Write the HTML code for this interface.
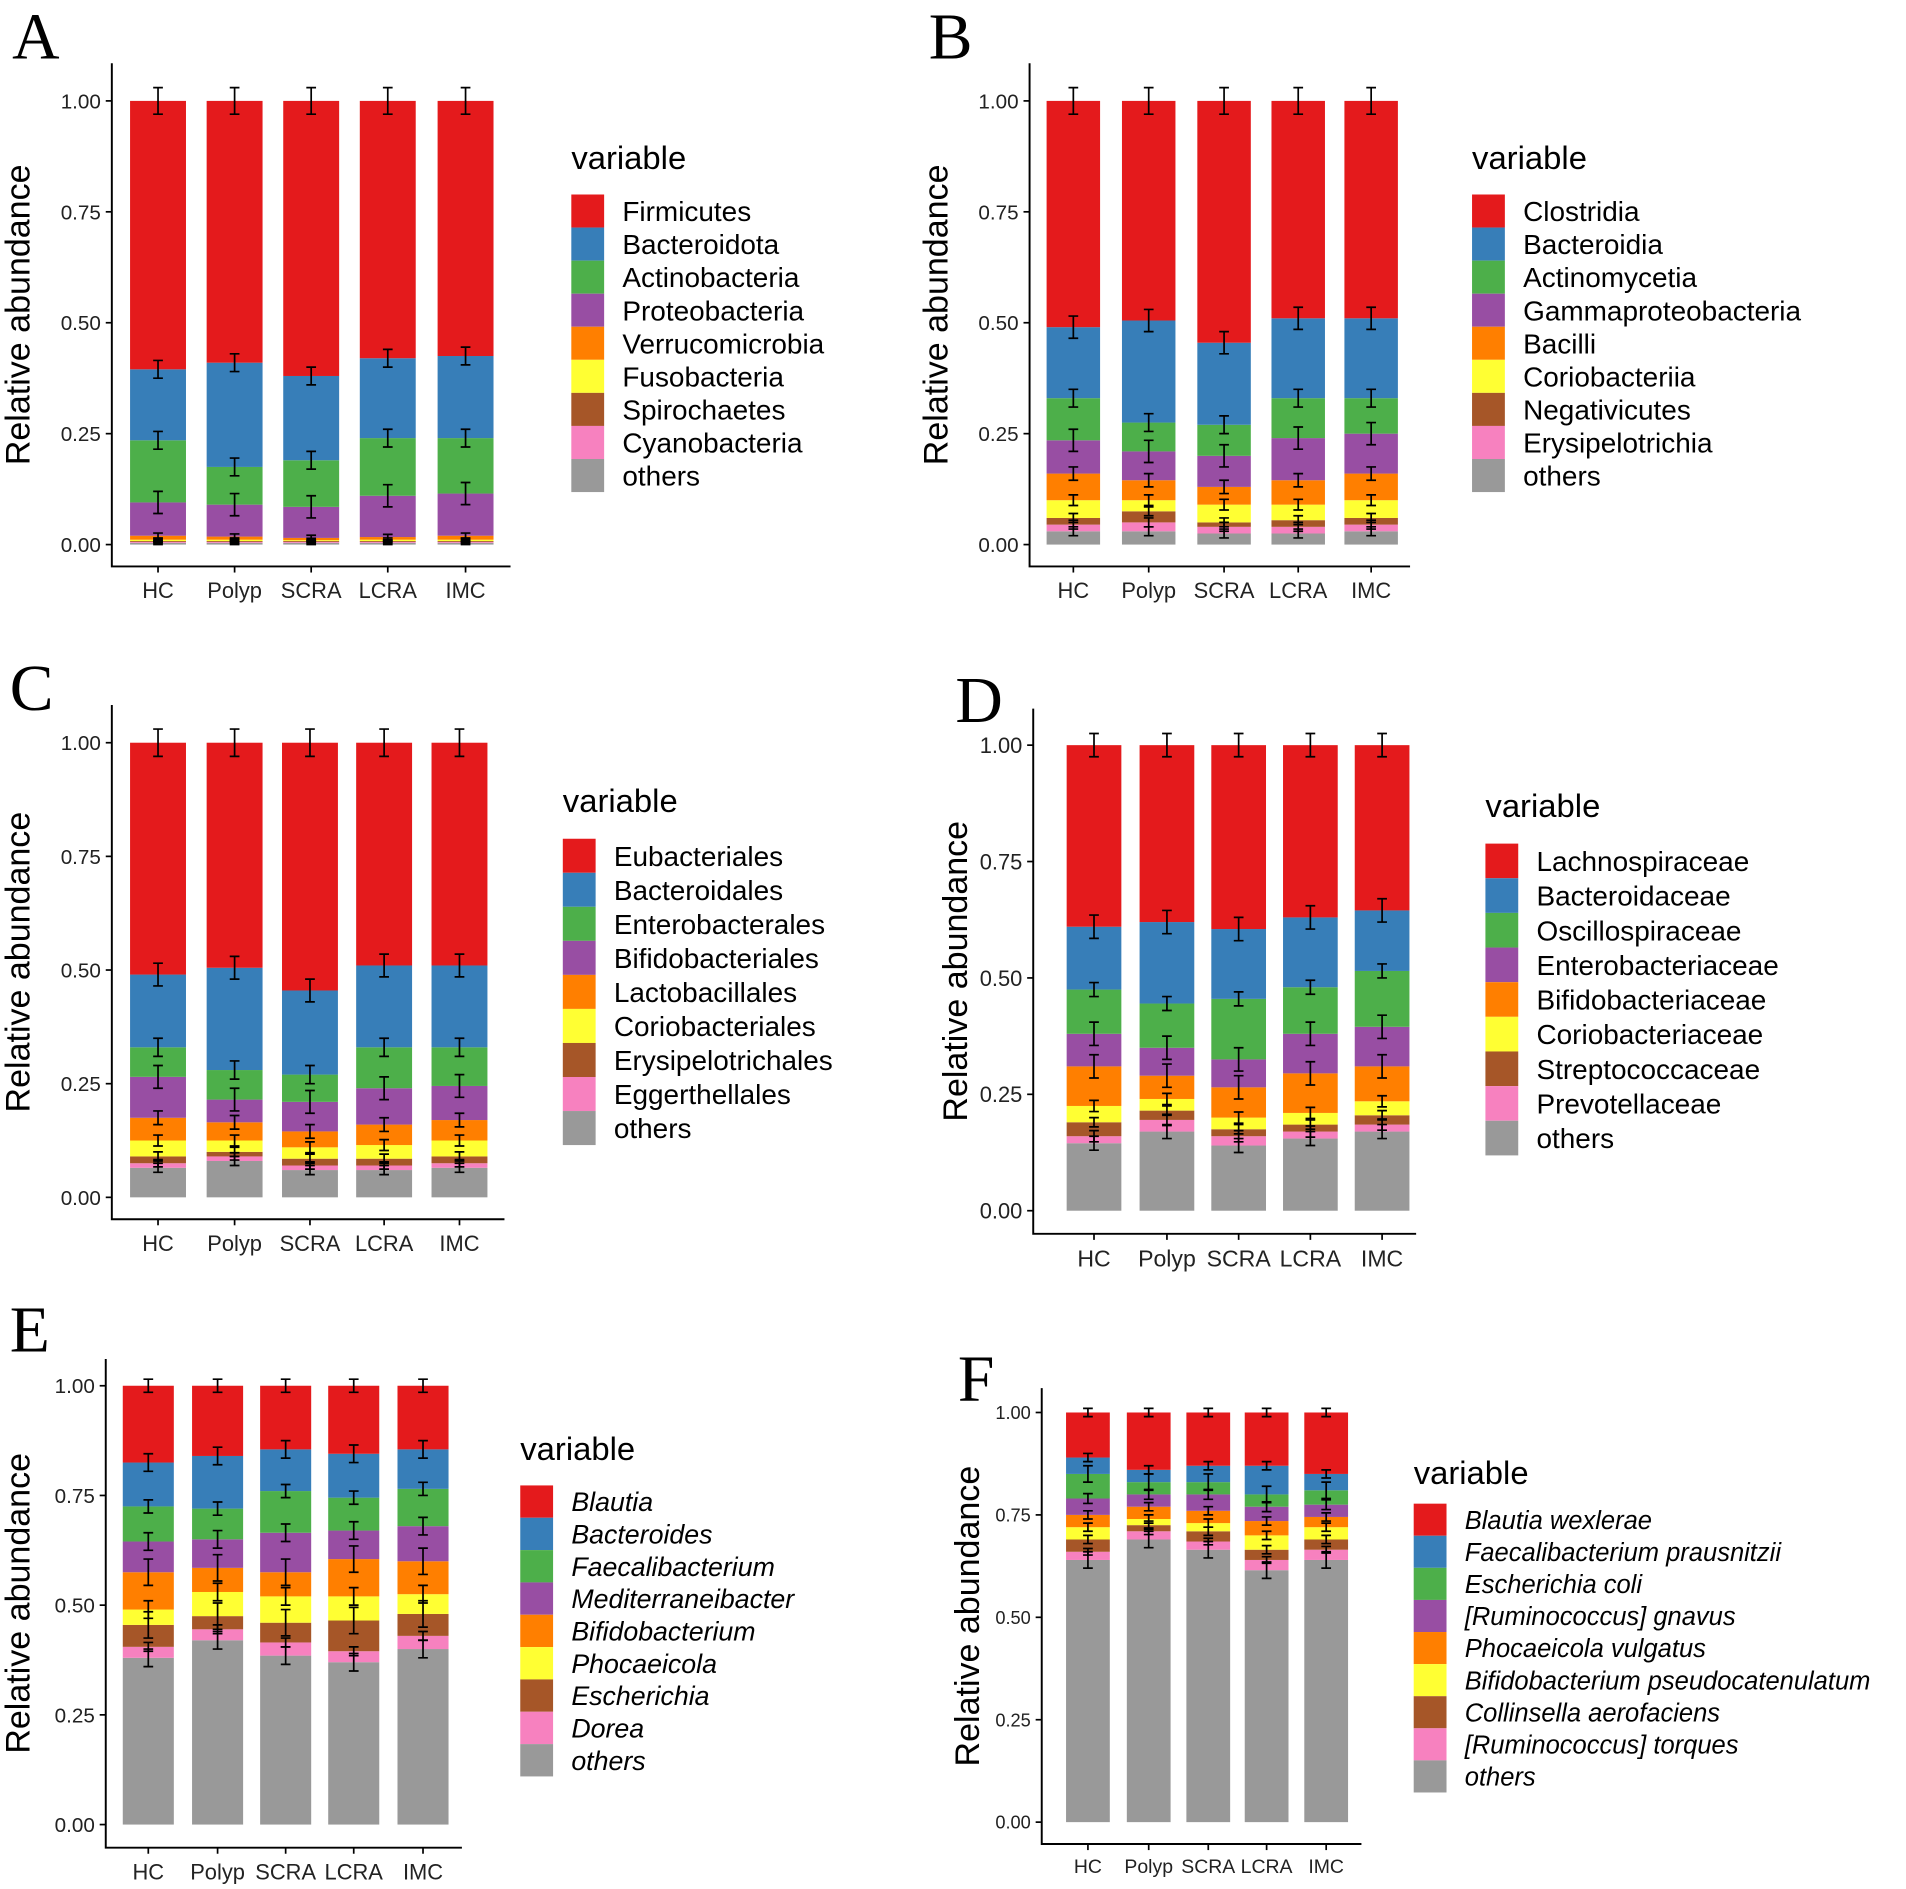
<!DOCTYPE html>
<html><head><meta charset="utf-8"><style>
html,body{margin:0;padding:0;background:#fff;}
svg{display:block;}
text{font-family:"Liberation Sans",Arial,sans-serif;}
</style></head><body>
<svg id="fig" width="1906" height="1889" viewBox="0 0 1568 1554" xmlns="http://www.w3.org/2000/svg"></svg>
<script>
const groups = ["HC","Polyp","SCRA","LCRA","IMC"];
const yTicks = [0,0.25,0.5,0.75,1.0];
const yTickLabels = ["0.00","0.25","0.50","0.75","1.00"];
const colors = ["#E41A1C","#377EB8","#4DAF4A","#984EA3","#FF7F00","#FFFF33","#A65628","#F781BF","#999999"];

const namesA = ["Firmicutes","Bacteroidota","Actinobacteria","Proteobacteria","Verrucomicrobia","Fusobacteria","Spirochaetes","Cyanobacteria","others"];
const valsA = [
 [.605,.59,.62,.58,.575],[.16,.235,.19,.18,.185],[.14,.085,.105,.13,.125],[.075,.072,.07,.093,.095],
 [.009,.007,.005,.006,.009],[.003,.003,.002,.003,.003],[.002,.002,.002,.002,.002],[.002,.002,.002,.002,.002],[.004,.004,.004,.004,.004]];
const errA = [.03,.02,.02,.025,.006,.004,.003,.003,.004];

const namesB = ["Clostridia","Bacteroidia","Actinomycetia","Gammaproteobacteria","Bacilli","Coriobacteriia","Negativicutes","Erysipelotrichia","others"];
const valsB = [
 [.51,.495,.545,.49,.49],[.16,.23,.185,.18,.18],[.095,.065,.07,.09,.08],[.075,.065,.07,.095,.09],
 [.06,.045,.04,.055,.06],[.04,.025,.04,.035,.04],[.015,.025,.01,.015,.015],[.015,.02,.015,.015,.015],[.03,.03,.025,.025,.03]];
const errB = [.03,.025,.02,.025,.015,.012,.01,.01,.01];

const namesC = ["Eubacteriales","Bacteroidales","Enterobacterales","Bifidobacteriales","Lactobacillales","Coriobacteriales","Erysipelotrichales","Eggerthellales","others"];
const valsC = [
 [.51,.495,.545,.49,.49],[.16,.225,.185,.18,.18],[.065,.065,.06,.09,.085],[.09,.05,.065,.08,.075],
 [.05,.04,.035,.045,.045],[.035,.025,.025,.03,.035],[.015,.01,.015,.015,.015],[.01,.01,.01,.01,.01],[.065,.08,.06,.06,.065]];
const errC = [.03,.025,.02,.025,.015,.012,.01,.008,.01];

const namesD = ["Lachnospiraceae","Bacteroidaceae","Oscillospiraceae","Enterobacteriaceae","Bifidobacteriaceae","Coriobacteriaceae","Streptococcaceae","Prevotellaceae","others"];
const valsD = [
 [.39,.38,.395,.37,.355],[.135,.175,.15,.15,.13],[.095,.095,.13,.10,.12],[.07,.06,.06,.085,.085],
 [.085,.05,.065,.085,.075],[.035,.025,.025,.025,.03],[.03,.02,.015,.015,.02],[.015,.025,.02,.015,.015],[.145,.17,.14,.155,.17]];
const errD = [.025,.025,.015,.025,.025,.012,.01,.012,.015];

const namesE = ["Blautia","Bacteroides","Faecalibacterium","Mediterraneibacter","Bifidobacterium","Phocaeicola","Escherichia","Dorea","others"];
const valsE = [
 [.175,.16,.145,.155,.145],[.10,.12,.095,.10,.09],[.08,.07,.095,.075,.085],[.07,.065,.09,.065,.08],
 [.085,.055,.055,.085,.075],[.035,.055,.06,.055,.045],[.05,.03,.045,.07,.05],[.025,.025,.03,.025,.03],[.38,.42,.385,.37,.40]];
const errE = [.015,.02,.015,.02,.03,.02,.03,.01,.02];

const namesF = ["Blautia wexlerae","Faecalibacterium prausnitzii","Escherichia coli","[Ruminococcus] gnavus","Phocaeicola vulgatus","Bifidobacterium pseudocatenulatum","Collinsella aerofaciens","[Ruminococcus] torques","others"];
const valsF = [
 [.11,.14,.13,.13,.15],[.04,.03,.04,.07,.04],[.06,.03,.03,.03,.035],[.04,.03,.04,.035,.03],
 [.03,.03,.03,.035,.025],[.03,.015,.02,.035,.03],[.03,.015,.025,.025,.025],[.02,.02,.02,.025,.025],[.64,.69,.665,.615,.64]];
const errF = [.01,.01,.02,.012,.01,.01,.01,.008,.02];

const panels = [
 {id:"a",letter:"A",lx:10,ly:48,names:namesA,vals:valsA,err:errA,x0:92,x1:420,yt:52,yb:466,y1:83,y0:448,cx:[130,193,256,319,383],bw:46,leg:470,vy:130,ry:160,rh:27.2,tx:5,fs:17,lfs:23,it:false},
 {id:"b",letter:"B",lx:764,ly:48,names:namesB,vals:valsB,err:errB,x0:847,x1:1160,yt:52,yb:466,y1:83,y0:448,cx:[883,945,1007,1068,1128],bw:44,leg:1211,vy:130,ry:160,rh:27.2,tx:760,fs:17,lfs:23,it:false},
 {id:"c",letter:"C",lx:8,ly:584,names:namesC,vals:valsC,err:errC,x0:92,x1:415,yt:580,yb:1003,y1:611,y0:985,cx:[130,193,255,316,378],bw:46,leg:463,vy:659,ry:690,rh:28,tx:5,fs:17,lfs:23,it:false},
 {id:"d",letter:"D",lx:786,ly:594,names:namesD,vals:valsD,err:errD,x0:850,x1:1165,yt:583,yb:1015,y1:613,y0:996,cx:[900,960,1019,1078,1137],bw:45,leg:1222,vy:663,ry:694,rh:28.5,tx:776,fs:18,lfs:23,it:false},
 {id:"e",letter:"E",lx:8,ly:1112,names:namesE,vals:valsE,err:errE,x0:87,x1:380,yt:1118,yb:1520,y1:1140,y0:1501,cx:[122,179,235,291,348],bw:42,leg:428,vy:1192,ry:1222,rh:26.6,tx:5,fs:17,lfs:22,it:true},
 {id:"f",letter:"F",lx:788,ly:1152,names:namesF,vals:valsF,err:errF,x0:857,x1:1120,yt:1142,yb:1517,y1:1162,y0:1499,cx:[895,945,994,1042,1091],bw:36,leg:1163,vy:1212,ry:1237,rh:26.4,tx:786,fs:15,lfs:21,it:true}
];

const NS="http://www.w3.org/2000/svg";
const svg=document.getElementById("fig");
function mk(tag,attrs,parent,txt){const e=document.createElementNS(NS,tag);for(const k in attrs)e.setAttribute(k,attrs[k]);if(txt!==undefined)e.textContent=txt;parent.appendChild(e);return e;}

panels.forEach(p=>{
  const g=mk("g",{},svg);
  
  
  const ys=v=>p.y0+(p.y1-p.y0)*v;
  const L=mk("text",{x:p.lx,y:p.ly,"font-size":54,style:"font-family:'Liberation Serif',serif"},g,p.letter);
  
  
  p.cx.forEach((c,gi)=>{
    let cum=0;
    const n=p.vals.length;
    const tops=[];
    for(let s=n-1;s>=0;s--){
      const v=p.vals[s][gi];
      const r=mk("rect",{x:c-p.bw/2,y:ys(cum+v),width:p.bw,height:ys(cum)-ys(cum+v),fill:colors[s]},g);
      
      
      cum+=v; tops.push([cum,p.err[s]]);
    }
    tops.forEach(([t,e])=>{
      const eb=mk("path",{d:`M${c} ${ys(t+e)}V${ys(t-e)}M${c-4} ${ys(t+e)}h8M${c-4} ${ys(t-e)}h8`,stroke:"#000","stroke-width":1.4,fill:"none"},g);
      
      
    });
  });
  const ax=mk("path",{d:`M${p.x0} ${p.yt}V${p.yb}H${p.x1}`,stroke:"#000","stroke-width":1.6,fill:"none"},g);
  
  
  yTicks.forEach((t,i)=>{
    mk("path",{d:`M${p.x0-5} ${ys(t)}H${p.x0}`,stroke:"#000","stroke-width":1.4},g);
    const tl=mk("text",{x:p.x0-9,y:ys(t)+p.fs*0.36,"text-anchor":"end","font-size":p.fs,fill:"#222"},g,yTickLabels[i]);
    
    
  });
  p.cx.forEach((c,i)=>{
    mk("path",{d:`M${c} ${p.yb}V${p.yb+5}`,stroke:"#000","stroke-width":1.4},g);
    const xl=mk("text",{x:c,y:p.yb+p.fs+9,"text-anchor":"middle","font-size":p.fs+1,fill:"#222"},g,groups[i]);
    
    
  });
  const cy=(p.yt+p.yb)/2;
  const yt=mk("text",{x:p.tx+12,y:cy,"text-anchor":"middle","font-size":28,transform:`rotate(-90 ${p.tx+12} ${cy})`,"dominant-baseline":"middle"},g,"Relative abundance");
  
  
  const lt=mk("text",{x:p.leg,y:p.vy+9,"font-size":27},g,"variable");
  
  
  p.names.forEach((nm,i)=>{
    const y=p.ry+i*p.rh;
    const sw=mk("rect",{x:p.leg,y:y,width:27,height:p.rh,fill:colors[i]},g);
    
    
    const tx=mk("text",{x:p.leg+42,y:y+p.rh/2+p.lfs*0.36,"font-size":p.lfs,"font-style":p.it?"italic":"normal"},g,nm);
    
    
  });
});
</script>
</body></html>
